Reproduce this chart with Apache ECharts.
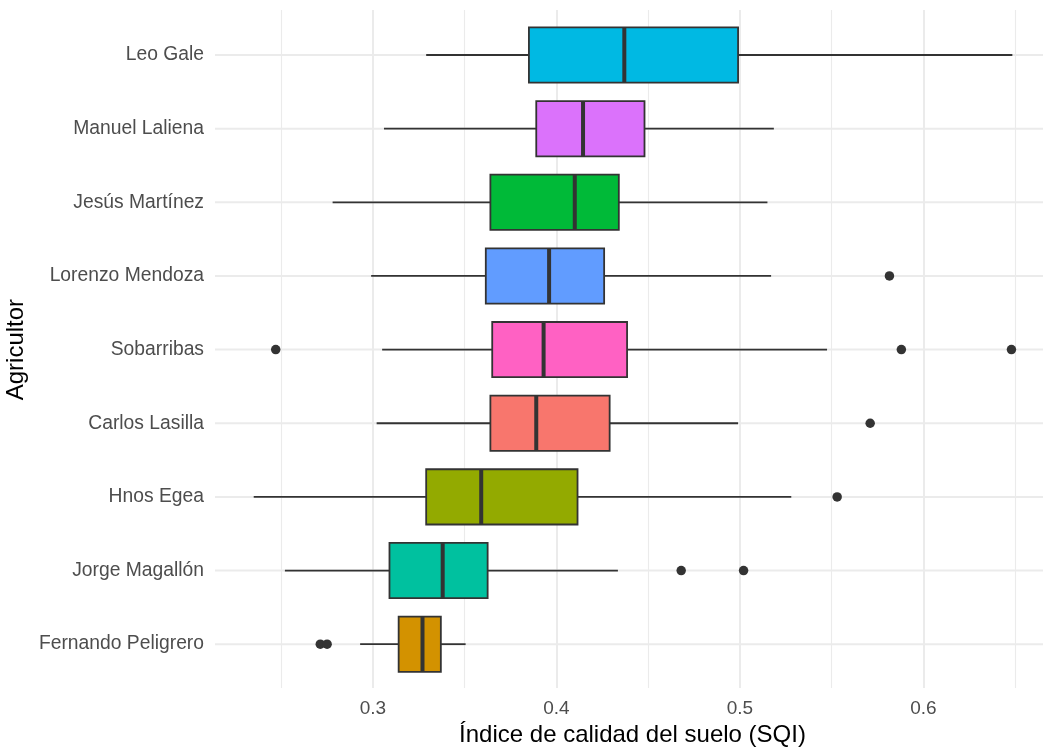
<!DOCTYPE html>
<html><head><meta charset="utf-8">
<script src="https://cdn.jsdelivr.net/npm/echarts@6/dist/echarts.min.js"></script>
<style>html,body{margin:0;padding:0;background:#fff}#c{width:1043px;height:747px}</style>
</head><body><div id="c"></div>
<script>
// ---- data (top to bottom) ----
const categories = ['Leo Gale','Manuel Laliena','Jesús Martínez','Lorenzo Mendoza','Sobarribas','Carlos Lasilla','Hnos Egea','Jorge Magallón','Fernando Peligrero'];
const whiskerLow  = [0.329, 0.306, 0.278, 0.299, 0.305, 0.302, 0.235, 0.252, 0.293];
const q1          = [0.385, 0.389, 0.364, 0.3615, 0.365, 0.364, 0.329, 0.309, 0.314];
const median      = [0.437, 0.4145, 0.410, 0.396, 0.393, 0.389, 0.359, 0.338, 0.327];
const q3          = [0.499, 0.448, 0.434, 0.426, 0.4385, 0.429, 0.4115, 0.3625, 0.337];
const whiskerHigh = [0.6485, 0.5185, 0.515, 0.517, 0.5475, 0.499, 0.528, 0.4335, 0.3505];
const outlierFarmer = ['Lorenzo Mendoza','Sobarribas','Sobarribas','Sobarribas','Carlos Lasilla','Hnos Egea','Jorge Magallón','Jorge Magallón','Fernando Peligrero','Fernando Peligrero'];
const outlierValue  = [0.5815, 0.247, 0.588, 0.648, 0.571, 0.553, 0.468, 0.502, 0.2713, 0.275];
const xTickLabels = ['0.3','0.4','0.5','0.6'];
// ---- style ----
const fillColors = ['#00B9E3','#DB72FB','#00BA38','#619CFF','#FF61C3','#F8766D','#93AA00','#00C19F','#D39200'];
const FONT = '"Liberation Sans", Arial, Helvetica, sans-serif';
const XMIN = 0.2139, XMAX = 0.6652;

const boxData = categories.map((c, i) => [i, whiskerLow[i], q1[i], median[i], q3[i], whiskerHigh[i]]);
const outData = outlierValue.map((v, k) => [v, categories.indexOf(outlierFarmer[k])]);

function renderBox(params, api) {
  const i = api.value(0);
  const lo = api.coord([api.value(1), i]);
  const b1 = api.coord([api.value(2), i]);
  const md = api.coord([api.value(3), i]);
  const b3 = api.coord([api.value(4), i]);
  const hi = api.coord([api.value(5), i]);
  const h = api.size([0, 1])[1] * 0.75;
  const y = lo[1];
  const stroke = '#333333';
  return {type: 'group', children: [
    {type: 'line', shape: {x1: lo[0], y1: y, x2: b1[0], y2: y}, style: {stroke, lineWidth: 1.8}},
    {type: 'line', shape: {x1: b3[0], y1: y, x2: hi[0], y2: y}, style: {stroke, lineWidth: 1.8}},
    {type: 'rect', shape: {x: b1[0], y: y - h / 2, width: b3[0] - b1[0], height: h},
      style: {fill: fillColors[params.dataIndex], stroke, lineWidth: 1.8}},
    {type: 'line', shape: {x1: md[0], y1: y - h / 2, x2: md[0], y2: y + h / 2}, style: {stroke, lineWidth: 4}}
  ]};
}
function renderHGrid(params, api) {
  const cs = params.coordSys;
  const y = api.coord([0.4, api.value(0)])[1];
  return {type: 'line', shape: {x1: cs.x, y1: y, x2: cs.x + cs.width, y2: y},
    style: {stroke: '#EBEBEB', lineWidth: 2}};
}

const chart = echarts.init(document.getElementById('c'), null, {renderer: 'canvas'});
chart.setOption({
  backgroundColor: '#ffffff',
  animation: false,
  grid: [
    {left: 215, right: 0, top: 10, bottom: 59, outerBoundsMode: 'none', containLabel: false},
    {left: 215, right: 0, top: 18.2, bottom: 66, outerBoundsMode: 'none', containLabel: false}
  ],
  xAxis: [
    {type: 'value', gridIndex: 0, min: XMIN, max: XMAX, splitNumber: 5,
      axisLine: {show: false}, axisTick: {show: false},
      axisLabel: {show: true, showMinLabel: false, showMaxLabel: false, margin: 11,
        color: '#4D4D4D', fontSize: 19, fontFamily: FONT,
        formatter: v => { const s = (Math.round(v * 10) / 10).toFixed(1); return xTickLabels.includes(s) ? s : ''; }},
      splitLine: {show: true, showMinLine: false, showMaxLine: false, lineStyle: {color: '#EBEBEB', width: 2}},
      minorTick: {show: false, splitNumber: 2},
      minorSplitLine: {show: true, lineStyle: {color: '#EBEBEB', width: 1.1}},
      name: 'Índice de calidad del suelo (SQI)', nameLocation: 'middle', nameGap: 31,
      nameTextStyle: {fontSize: 24, color: '#000000', fontFamily: FONT, padding: [0, 0, 0, 7]}},
    {type: 'value', gridIndex: 1, min: XMIN, max: XMAX, show: false}
  ],
  yAxis: [
    {type: 'value', gridIndex: 0, min: 0, max: 1, show: false},
    {type: 'category', gridIndex: 1, data: categories, inverse: true,
      axisLine: {show: false}, axisTick: {show: false}, splitLine: {show: false},
      axisLabel: {margin: 11, color: '#4D4D4D', fontSize: 19.3, fontFamily: FONT, padding: [3, 0, 0, 0]},
      name: 'Agricultor', nameLocation: 'middle', nameGap: 174, nameRotate: 90,
      nameTextStyle: {fontSize: 24, color: '#000000', fontFamily: FONT}}
  ],
  series: [
    {type: 'custom', name: 'grid', xAxisIndex: 1, yAxisIndex: 1, z: 1, silent: true,
      data: categories.map((c, i) => [i]), encode: {y: 0}, renderItem: renderHGrid},
    {type: 'custom', name: 'boxes', xAxisIndex: 1, yAxisIndex: 1, z: 2,
      data: boxData, encode: {y: 0, x: [1, 2, 3, 4, 5]}, renderItem: renderBox},
    {type: 'scatter', name: 'outliers', xAxisIndex: 1, yAxisIndex: 1, z: 3,
      data: outData, symbol: 'circle', symbolSize: 9.5, itemStyle: {color: '#333333', opacity: 1}}
  ]
});
</script></body></html>
